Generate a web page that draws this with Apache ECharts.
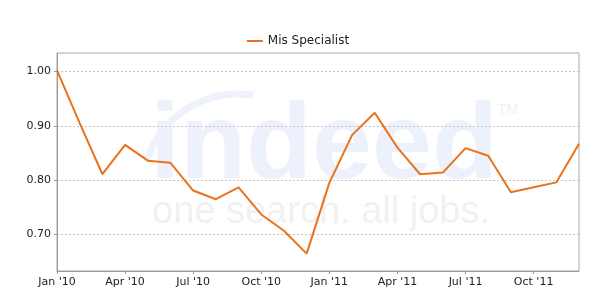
<!DOCTYPE html>
<html><head><meta charset="utf-8">
<script src="https://cdn.jsdelivr.net/npm/echarts@6/dist/echarts.min.js"></script>
<style>html,body{margin:0;padding:0;background:#fff}#c{width:596px;height:296px}</style>
</head><body><div id="c"></div>
<script>
const months = ["Jan '10","Feb '10","Mar '10","Apr '10","May '10","Jun '10","Jul '10","Aug '10","Sep '10","Oct '10","Nov '10","Dec '10",
"Jan '11","Feb '11","Mar '11","Apr '11","May '11","Jun '11","Jul '11","Aug '11","Sep '11","Oct '11","Nov '11","Dec '11"];
const misSpecialist = [1.002,0.905,0.811,0.865,0.836,0.832,0.781,0.765,0.787,0.737,0.707,0.665,
0.795,0.883,0.924,0.860,0.811,0.814,0.859,0.845,0.778,0.787,0.796,0.867];
const yTicks = [0.70,0.80,0.90,1.00];
const seriesName = 'Mis Specialist';

const chart = echarts.init(document.getElementById('c'), null, {renderer:'canvas'});
const font = 'DejaVu Sans';
chart.setOption({
  animation:false,
  textStyle:{fontFamily:font},
  graphic:[
    {type:'text', z:-10, left:150, top:94, style:{text:'indeed', font:'bold 108px "Liberation Sans"', fill:'#edf1fb'}},
    {type:'text', z:-10, left:152, top:194, style:{text:'one search. all jobs.', font:'38px "Liberation Sans"', fill:'#f1f1f3'}},
    {type:'text', z:-10, left:498, top:103, style:{text:'TM', font:'14px "Liberation Sans"', fill:'#f0f0f2'}},
    {type:'arc', z:-10, shape:{cx:238, cy:190, r:96, startAngle:Math.PI*1.1, endAngle:Math.PI*1.55}, style:{stroke:'#eef2fb', lineWidth:7, fill:null}}
  ],
  legend:{top:30, left:'center', itemWidth:16, itemHeight:2, icon:'rect', itemGap:6,
    textStyle:{fontFamily:font, fontSize:12, color:'#222'}, data:[seriesName]},
  grid:{left:57, right:17, top:53, bottom:25, show:true, borderColor:'#aaa', borderWidth:1, backgroundColor:'transparent'},
  xAxis:{type:'category', data:months, boundaryGap:false,
    axisLine:{lineStyle:{color:'#999'}},
    axisTick:{interval:2, length:3, lineStyle:{color:'#999'}},
    axisLabel:{interval:2, color:'#222', fontSize:11, fontFamily:font, margin:6},
    splitLine:{show:false}},
  yAxis:{type:'value', min:0.633, max:1.034,
    axisLine:{show:true, lineStyle:{color:'#999'}},
    axisTick:{show:true, length:3, customValues:yTicks, lineStyle:{color:'#999'}},
    axisLabel:{customValues:yTicks, color:'#222', fontSize:11, fontFamily:font, margin:6, formatter:v=>v.toFixed(2)},
    splitLine:{show:true, lineStyle:{color:'#c4c4c4', type:[2,2], width:1}}},
  series:[{name:seriesName, type:'line', data:misSpecialist, symbol:'none', itemStyle:{color:'#e8731c'},
    lineStyle:{color:'#e8731c', width:2}}]
});
</script></body></html>
